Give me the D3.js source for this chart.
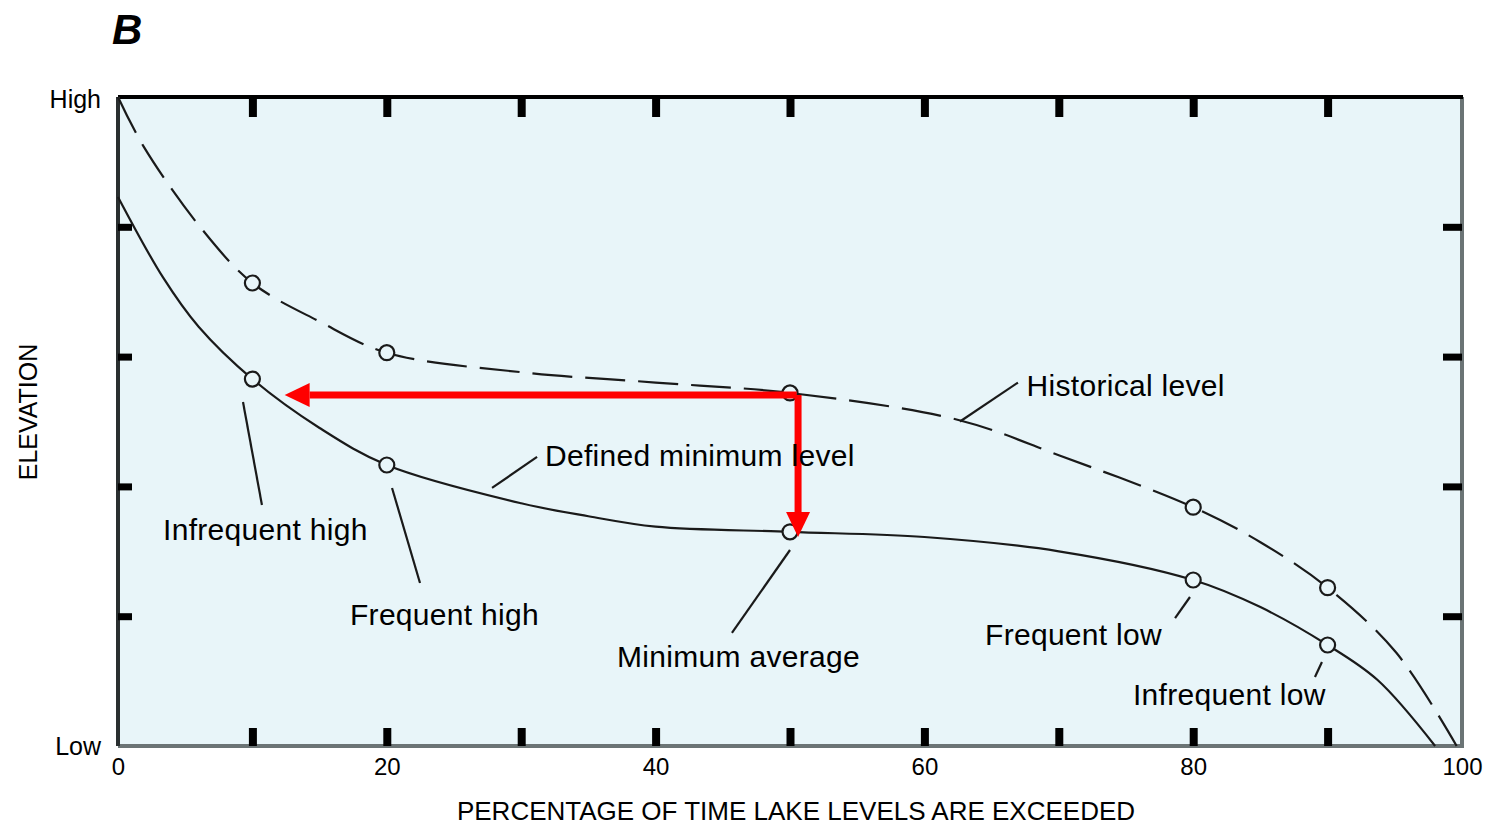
<!DOCTYPE html>
<html>
<head>
<meta charset="utf-8">
<script src="https://cdn.jsdelivr.net/npm/d3@7"></script>
<style>
  body { margin: 0; background: #fff; }
  svg { display: block; font-family: "Liberation Sans", Arial, sans-serif; }
</style>
</head>
<body>
<svg id="chart" width="1493" height="825"></svg>
<script>
// percentage of time exceeded vs relative elevation (0 = Low, 5 = High)
const historicalX = [0, 1.9, 6.1, 10, 15, 20, 30, 40, 50, 62.6, 70, 80, 85, 90, 95.1, 99.6];
const historicalY = [5.0, 4.62, 4.0, 3.567, 3.27, 3.03, 2.88, 2.80, 2.72, 2.51, 2.24, 1.84, 1.57, 1.22, 0.72, 0.0];
const minimumX = [0, 3.35, 6, 10, 15, 20, 30, 35, 40, 50, 60, 70, 80, 85, 90, 93.7, 98];
const minimumY = [4.23, 3.61, 3.23, 2.827, 2.45, 2.165, 1.87, 1.77, 1.69, 1.65, 1.61, 1.50, 1.279, 1.07, 0.778, 0.51, 0.0];
const markedX = [10, 20, 50, 80, 90];
const historicalMarks = [3.567, 3.03, 2.72, 1.84, 1.22];
const minimumMarks = [2.827, 2.165, 1.65, 1.279, 0.778];
const xTickLabels = [0, 20, 40, 60, 80, 100];
const xMinorTicks = [10, 20, 30, 40, 50, 60, 70, 80, 90];
const yTicks = [1, 2, 3, 4];
const labelTexts = ["Historical level", "Defined minimum level", "Infrequent high", "Frequent high",
                    "Minimum average", "Frequent low", "Infrequent low"];
const labelAt = [[67.6, 2.70], [31.77, 2.157], [3.35, 1.587], [17.26, 0.932], [37.13, 0.609], [64.51, 0.778], [75.52, 0.316]];
const leaders = [
  [[66.96, 2.80], [62.65, 2.50]],
  [[31.18, 2.227], [27.83, 1.988]],
  [[9.30, 2.650], [10.71, 1.857]],
  [[20.39, 1.988], [22.47, 1.256]],
  [[50.0, 1.510], [45.68, 0.871]],
  [[79.76, 1.148], [78.65, 0.986]],
  [[89.58, 0.647], [89.06, 0.532]]
];
// red arrows: from historical median across to infrequent high, and down to minimum average
const arrowH = [[50.5, 2.704], [12.4, 2.704]];
const arrowV = [[50.6, 2.704], [50.6, 1.61]];

const svg = d3.select("#chart");
const x = d3.scaleLinear().domain([0, 100]).range([118, 1462]);
const y = d3.scaleLinear().domain([0, 5]).range([746, 97]);

svg.append("rect")
  .attr("x", x(0)).attr("y", y(5))
  .attr("width", x(100) - x(0)).attr("height", y(0) - y(5))
  .attr("fill", "#e8f5f9");

// frame
svg.append("line").attr("x1", x(100)).attr("x2", x(100)).attr("y1", y(5)).attr("y2", y(0) + 2)
  .attr("stroke", "#6b7475").attr("stroke-width", 4);
svg.append("line").attr("x1", x(0)).attr("x2", x(100) + 2).attr("y1", y(0)).attr("y2", y(0))
  .attr("stroke", "#6b7475").attr("stroke-width", 4);
svg.append("line").attr("x1", x(0)).attr("x2", x(100) + 1).attr("y1", y(5)).attr("y2", y(5))
  .attr("stroke", "#000").attr("stroke-width", 4);
svg.append("line").attr("x1", x(0)).attr("x2", x(0)).attr("y1", y(5)).attr("y2", y(0))
  .attr("stroke", "#2a2f30").attr("stroke-width", 4);

// inward ticks
function tickStyle(g, w) {
  g.select(".domain").remove();
  g.selectAll(".tick text").remove();
  g.selectAll(".tick line").attr("stroke", "#000").attr("stroke-width", w);
}
svg.append("g").attr("transform", "translate(0," + y(5) + ")")
  .call(d3.axisTop(x).tickValues(xMinorTicks).tickSize(-20))
  .call(g => tickStyle(g, 8));
svg.append("g").attr("transform", "translate(0," + y(0) + ")")
  .call(d3.axisBottom(x).tickValues(xMinorTicks).tickSize(-18))
  .call(g => tickStyle(g, 8));
svg.append("g").attr("transform", "translate(" + x(0) + ",0)")
  .call(d3.axisLeft(y).tickValues(yTicks).tickSize(-14))
  .call(g => tickStyle(g, 7));
svg.append("g").attr("transform", "translate(" + x(100) + ",0)")
  .call(d3.axisRight(y).tickValues(yTicks).tickSize(-19))
  .call(g => tickStyle(g, 7));

// x tick labels
const xl = svg.append("g").attr("transform", "translate(0," + y(0) + ")")
  .call(d3.axisBottom(x).tickValues(xTickLabels).tickSize(0).tickPadding(12));
xl.select(".domain").remove();
xl.selectAll(".tick text").attr("font-size", 24).attr("font-family", "Liberation Sans, Arial").attr("fill", "#000");

// curves
const line = d3.line().x(d => x(d[0])).y(d => y(d[1])).curve(d3.curveCatmullRom.alpha(0.5));
svg.append("path")
  .datum(historicalX.map((v, i) => [v, historicalY[i]]))
  .attr("d", line).attr("fill", "none")
  .attr("stroke", "#1a1a1a").attr("stroke-width", 2.2)
  .attr("stroke-dasharray", "40,13");
svg.append("path")
  .datum(minimumX.map((v, i) => [v, minimumY[i]]))
  .attr("d", line).attr("fill", "none")
  .attr("stroke", "#1a1a1a").attr("stroke-width", 2.2);

// leader lines
svg.selectAll(".leader").data(leaders).enter().append("line")
  .attr("class", "leader")
  .attr("x1", d => x(d[0][0])).attr("y1", d => y(d[0][1]))
  .attr("x2", d => x(d[1][0])).attr("y2", d => y(d[1][1]))
  .attr("stroke", "#1a1a1a").attr("stroke-width", 2.2);

// marker circles
const marks = markedX.map((v, i) => [v, historicalMarks[i]])
  .concat(markedX.map((v, i) => [v, minimumMarks[i]]));
svg.selectAll(".mark").data(marks).enter().append("circle")
  .attr("class", "mark")
  .attr("cx", d => x(d[0])).attr("cy", d => y(d[1])).attr("r", 7.5)
  .attr("fill", "#e8f5f9").attr("stroke", "#1a1a1a").attr("stroke-width", 2.2);

// red arrows
function arrow(a) {
  const x1 = x(a[0][0]), y1 = y(a[0][1]), x2 = x(a[1][0]), y2 = y(a[1][1]);
  const ang = Math.atan2(y2 - y1, x2 - x1);
  const head = 25, half = 12;
  const bx = x2 - head * Math.cos(ang), by = y2 - head * Math.sin(ang);
  svg.append("line").attr("x1", x1).attr("y1", y1).attr("x2", bx).attr("y2", by)
    .attr("stroke", "#ff0000").attr("stroke-width", 7);
  const pts = [[x2, y2],
    [bx + half * Math.sin(ang), by - half * Math.cos(ang)],
    [bx - half * Math.sin(ang), by + half * Math.cos(ang)]];
  svg.append("polygon").attr("points", pts.map(p => p.join(",")).join(" ")).attr("fill", "#ff0000");
}
arrow(arrowH);
arrow(arrowV);

// curve labels
svg.selectAll(".lab").data(labelTexts).enter().append("text")
  .attr("class", "lab")
  .attr("x", (d, i) => x(labelAt[i][0])).attr("y", (d, i) => y(labelAt[i][1]))
  .attr("font-size", 30).attr("letter-spacing", 0.3).attr("fill", "#000")
  .text(d => d);

// axis words
svg.append("text").attr("x", 101).attr("y", y(5) + 11).attr("text-anchor", "end")
  .attr("font-size", 25).text("High");
svg.append("text").attr("x", 101).attr("y", y(0) + 9).attr("text-anchor", "end")
  .attr("font-size", 25).text("Low");
svg.append("text").attr("x", 112).attr("y", 44)
  .attr("font-size", 42).attr("font-style", "italic").attr("font-weight", "bold").text("B");
svg.append("text").attr("x", 796).attr("y", 820).attr("text-anchor", "middle")
  .attr("font-size", 26).text("PERCENTAGE OF TIME LAKE LEVELS ARE EXCEEDED");
svg.append("text").attr("transform", "translate(37," + 412 + ") rotate(-90)").attr("text-anchor", "middle")
  .attr("font-size", 25).text("ELEVATION");
</script>
</body>
</html>
